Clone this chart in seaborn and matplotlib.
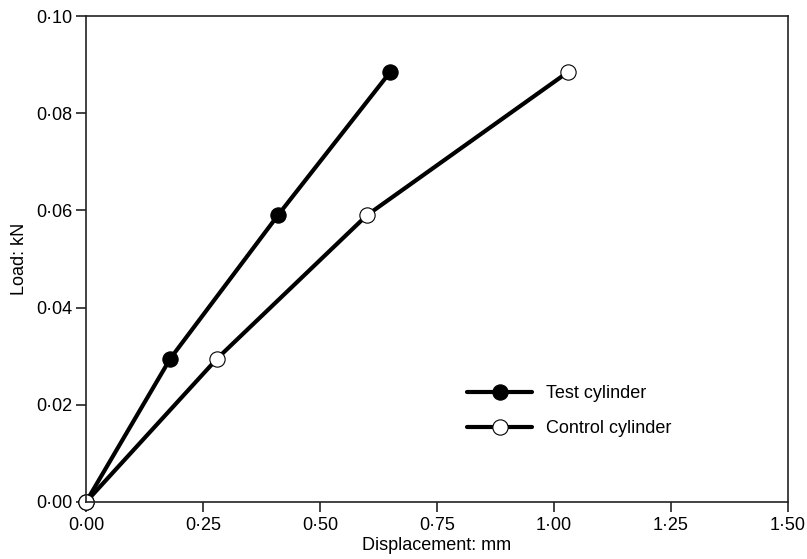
import matplotlib
matplotlib.use("Agg")
import matplotlib.pyplot as plt
import seaborn as sns
import pandas as pd

# Data
test_disp = [0.00, 0.18, 0.41, 0.65]
test_load = [0.0, 0.0295, 0.059, 0.0885]
ctrl_disp = [0.00, 0.28, 0.60, 1.03]
ctrl_load = [0.0, 0.0295, 0.059, 0.0885]
series_names = ["Test cylinder", "Control cylinder"]
x_ticks = [0.0, 0.25, 0.5, 0.75, 1.0, 1.25, 1.5]
x_ticklabels = ["0·00", "0·25", "0·50", "0·75", "1·00", "1·25", "1·50"]
y_ticks = [0.0, 0.02, 0.04, 0.06, 0.08, 0.10]
y_ticklabels = ["0·00", "0·02", "0·04", "0·06", "0·08", "0·10"]

df = pd.DataFrame({
    "disp": test_disp + ctrl_disp,
    "load": test_load + ctrl_load,
    "series": [series_names[0]] * len(test_disp) + [series_names[1]] * len(ctrl_disp),
})

sns.set_theme(style="ticks")
plt.rcParams["font.family"] = ["Liberation Sans", "DejaVu Sans"]
plt.rcParams["text.color"] = "black"

fig = plt.figure(figsize=(8.07, 5.59), dpi=100)
ax = fig.add_axes([0.1066, 0.102, 0.8699, 0.8692])

styles = {
    series_names[0]: dict(markerfacecolor="black"),
    series_names[1]: dict(markerfacecolor="white"),
}
for name in series_names:
    sub = df[df["series"] == name]
    sns.lineplot(data=sub, x="disp", y="load", ax=ax, color="black",
                 linewidth=3, marker="o", markersize=11,
                 markeredgecolor="black", markeredgewidth=0.8,
                 label=name, sort=False, **styles[name])

ax.set_xlim(0, 1.5)
ax.set_ylim(0, 0.10)
ax.set_xticks(x_ticks)
ax.set_xticklabels(x_ticklabels)
ax.set_yticks(y_ticks)
ax.set_yticklabels(y_ticklabels)
ax.tick_params(axis="both", direction="out", length=7, width=1.2,
               labelsize=13, color="#222222", labelcolor="black")
ax.tick_params(axis="x", pad=4)
ax.tick_params(axis="y", pad=3)
for sp in ax.spines.values():
    sp.set_visible(True)
    sp.set_linewidth(1.2)
    sp.set_color("#222222")
ax.set_xlabel("Displacement: mm", fontsize=13, labelpad=2, color="black")
ax.set_ylabel("Load: kN", fontsize=13, labelpad=6, color="black")
for line in ax.lines:
    line.set_clip_on(False)

leg = ax.legend(loc="lower left", bbox_to_anchor=(0.52, 0.0995), frameon=False,
                fontsize=13, handlelength=3.6, handletextpad=0.75, labelspacing=1.0)
for t in leg.get_texts():
    t.set_color("black")

fig.savefig("out.png", dpi=100)
